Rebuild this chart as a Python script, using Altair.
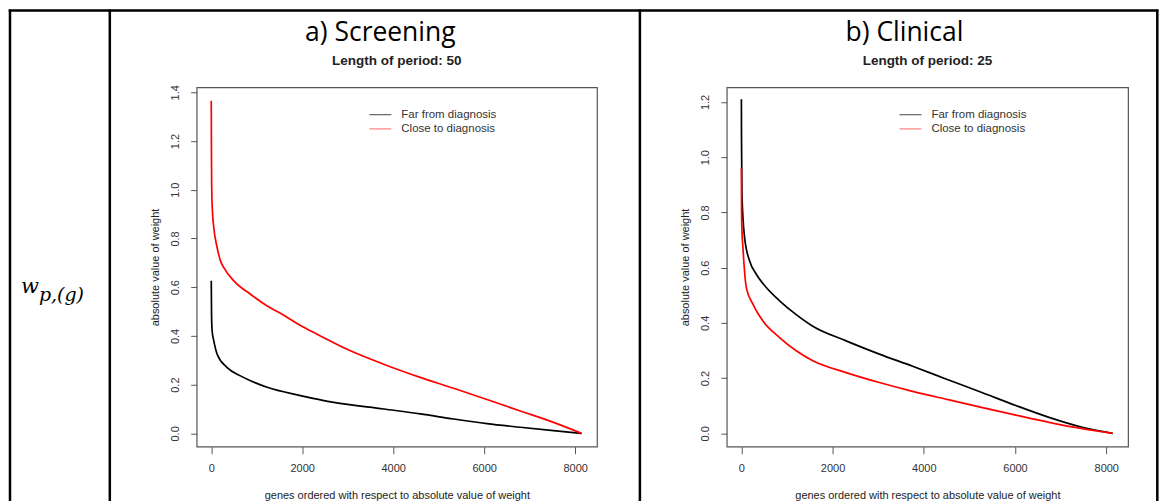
import altair as alt
import pandas as pd

FAR = "Far from diagnosis"
CLOSE = "Close to diagnosis"

# a) Screening, period length 50: genes ranked by |weight|
scr_far_rank = [1, 7, 20, 57, 131, 351, 643, 863, 1230, 1961, 2693, 3790, 4596, 5328, 6060, 6792, 7523, 8140]
scr_far_w = [0.626, 0.49, 0.42, 0.380, 0.325, 0.270, 0.236, 0.216, 0.189, 0.155, 0.127, 0.100, 0.080, 0.059, 0.040, 0.025, 0.011, 0.0]
scr_close_rank = [1, 5, 10, 22, 57, 131, 204, 277, 496, 863, 1230, 1594, 1961, 2328, 3059, 3790, 4560, 5328, 6060, 6792, 7523, 8140]
scr_close_w = [1.365, 1.15, 1.02, 0.93, 0.844, 0.762, 0.708, 0.680, 0.626, 0.571, 0.523, 0.485, 0.443, 0.407, 0.339, 0.284, 0.232, 0.185, 0.139, 0.092, 0.045, 0.0]

# b) Clinical, period length 25
cli_far_rank = [1, 3, 13, 72, 182, 328, 547, 838, 1203, 1567, 2297, 3026, 3755, 4485, 5287, 6017, 6746, 7475, 8140]
cli_far_w = [1.21, 1.08, 0.865, 0.708, 0.624, 0.576, 0.528, 0.480, 0.430, 0.388, 0.335, 0.287, 0.243, 0.197, 0.147, 0.101, 0.058, 0.022, 0.0]
cli_close_rank = [1, 5, 12, 35, 109, 254, 473, 838, 1203, 1567, 2297, 3026, 3755, 4558, 5287, 6017, 6746, 7475, 8140]
cli_close_w = [0.961, 0.80, 0.74, 0.672, 0.528, 0.468, 0.407, 0.347, 0.299, 0.263, 0.220, 0.184, 0.152, 0.121, 0.093, 0.066, 0.040, 0.017, 0.0]

x_ticks = [0, 2000, 4000, 6000, 8000]
scr_y_ticks = [0.0, 0.2, 0.4, 0.6, 0.8, 1.0, 1.2, 1.4]
cli_y_ticks = [0.0, 0.2, 0.4, 0.6, 0.8, 1.0, 1.2]

X_TITLE = "genes ordered with respect to absolute value of weight"
Y_TITLE = "absolute value of weight"

SANS = "Liberation Sans"
ONE = alt.Data(values=[{}])
PLOT_H = 360


def deco_text(text, x, y, **kw):
    return alt.Chart(ONE).mark_text(text=text, **kw).encode(x=alt.value(x), y=alt.value(y))


def deco_rule(x, x2, y, y2, color, width, opacity=1.0):
    return alt.Chart(ONE).mark_rule(color=color, strokeWidth=width, opacity=opacity).encode(
        x=alt.value(x), x2=alt.value(x2), y=alt.value(y), y2=alt.value(y2))


def panel(far_rank, far_w, close_rank, close_w, y_dom, y_ticks, width,
          title, title_x, subtitle):
    far_df = pd.DataFrame({"rank": far_rank, "w": far_w, "series": FAR})
    close_df = pd.DataFrame({"rank": close_rank, "w": close_w, "series": CLOSE})

    x = alt.X("rank:Q",
              scale=alt.Scale(domain=[-320, 8478], nice=False, zero=False),
              axis=alt.Axis(values=x_ticks, format="d", title=X_TITLE,
                            grid=False, domain=False, tickSize=7, tickColor="#555",
                            labelPadding=9, labelFont=SANS, labelFontSize=11,
                            labelColor="#333", titleFont=SANS, titleFontSize=11,
                            titleFontWeight="normal", titleColor="#222",
                            titlePadding=16))
    y = alt.Y("w:Q",
              scale=alt.Scale(domain=y_dom, nice=False, zero=False),
              axis=alt.Axis(values=y_ticks, format=".1f", title=Y_TITLE,
                            grid=False, domain=False, tickSize=6, tickColor="#555",
                            labelAngle=270, labelAlign="center", labelBaseline="bottom",
                            labelPadding=10, labelFont=SANS, labelFontSize=11,
                            labelColor="#333", titleFont=SANS, titleFontSize=11,
                            titleFontWeight="normal", titleColor="#222",
                            titlePadding=9))

    far = alt.Chart(far_df).mark_line(color="black", strokeWidth=1.7,
                                      interpolate="monotone").encode(x=x, y=y)
    close = alt.Chart(close_df).mark_line(color="red", strokeWidth=1.7,
                                          interpolate="monotone").encode(x=x, y=y)

    # legend in the upper part of the box
    legend = [
        deco_rule(173, 195, 27.5, 27.5, "black", 1, 0.75),
        deco_rule(173, 195, 41.7, 41.7, "red", 1, 0.6),
        deco_text(FAR, 205, 27.7, align="left", baseline="middle",
                  font=SANS, fontSize=11.5, color="#333"),
        deco_text(CLOSE, 205, 41.9, align="left", baseline="middle",
                  font=SANS, fontSize=11.5, color="#333"),
    ]
    heads = [
        deco_text(title, title_x, -46.5, align="center", baseline="alphabetic",
                  font="Open Sans", fontSize=26.5, color="black"),
        deco_text(subtitle, width / 2, -22.8, align="center", baseline="alphabetic",
                  font=SANS, fontSize=13.5, fontWeight="bold", color="#222"),
    ]
    return [far, close] + legend + heads


scr_layers = panel(scr_far_rank, scr_far_w, scr_close_rank, scr_close_w,
                   [-0.0546, 1.4206], scr_y_ticks, 401,
                   "a) Screening", 184, "Length of period: 50")
cli_layers = panel(cli_far_rank, cli_far_w, cli_close_rank, cli_close_w,
                   [-0.0482, 1.2532], cli_y_ticks, 402,
                   "b) Clinical", 178, "Length of period: 25")

# page extent and the surrounding table grid, in pixels from the first plot's origin
page = alt.Chart(ONE).mark_rect(opacity=0).encode(
    x=alt.value(-196), x2=alt.value(965), y=alt.value(-86), y2=alt.value(415))
grid_lines = [
    deco_rule(-188.3, 963.3, -77, -77, "black", 2.5),
    deco_rule(-187, -187, -78, 415, "black", 2.5),
    deco_rule(-87, -87, -78, 415, "black", 2.5),
    deco_rule(444, 444, -78, 415, "black", 2.5),
    deco_rule(962.3, 962.3, -78, 415, "black", 2.5),
]
# row label w_{p,(g)}
row_label = [
    deco_text("w", -176, 206, align="left", baseline="alphabetic",
              font="DejaVu Serif", fontSize=21, fontStyle="italic", color="black"),
    deco_text("p,(g)", -158, 214, align="left", baseline="alphabetic",
              font="DejaVu Serif", fontSize=19, fontStyle="italic", color="black"),
]

screening = alt.layer(page, *grid_lines, *row_label, *scr_layers).properties(
    width=401, height=PLOT_H)
clinical = alt.layer(*cli_layers).properties(width=402, height=PLOT_H)

chart = alt.hconcat(screening, clinical, spacing=130, bounds="flush").properties(
    padding=0, autosize=alt.AutoSizeParams(type="pad"), background="white"
).configure_view(stroke="#555", strokeWidth=1.2)

chart.save("out.html", embed_options={"renderer": "svg", "actions": False})
